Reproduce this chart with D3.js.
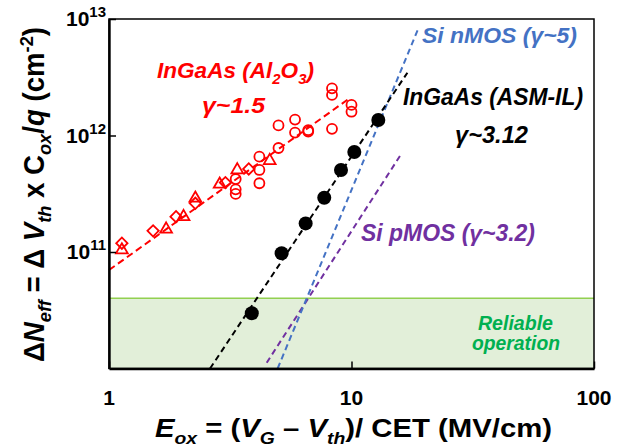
<!DOCTYPE html>
<html>
<head>
<meta charset="utf-8">
<script src="https://cdn.jsdelivr.net/npm/d3@7"></script>
<style>
  html, body { margin: 0; padding: 0; background: #fff; }
  svg { display: block; font-family: Arial, "Liberation Sans", Helvetica, sans-serif; font-weight: bold; }
</style>
</head>
<body>
<svg id="chart" width="639" height="446"></svg>
<script>
// InGaAs / Al2O3 gate stack: three device sets (diamonds, triangles, circles)
const al2o3Diamonds = [[1.13,1.19e11],[1.52,1.52e11],[1.89,2.01e11],[2.27,2.62e11],[3.02,3.94e11],[3.77,5.16e11]];
const al2o3Triangles = [[1.13,1.04e11],[1.72,1.57e11],[2.03,2.01e11],[2.27,2.89e11],[2.86,3.81e11],[3.38,5.06e11],[4.60,6.08e11]];
const al2o3Circles = [[3.33,4.23e11],[3.33,3.45e11],[3.33,3.15e11],[4.17,6.58e11],[4.17,5.06e11],[4.17,3.89e11],
  [5.00,1.22e12],[5.00,7.81e11],[5.85,1.37e12],[5.85,1.06e12],[6.63,1.11e12],[6.63,1.08e12],
  [8.31,2.54e12],[8.31,2.23e12],[8.31,1.14e12],[10.0,1.83e12],[10.0,1.60e12]];
// InGaAs with ASM interlayer
const asmIL = [[3.88,2.98e10],[5.15,9.75e10],[6.47,1.76e11],[7.72,2.92e11],[9.05,5.06e11],[10.27,7.22e11],[12.9,1.36e12]];
// Power-law trends (end points)
const fitAl2o3 = [[1,7.0e10],[9.7,2.05e12]];
const fitAsmIL = [[2.61,1e10],[17.0,3.46e12]];
const fitSiN = [[4.96,1e10],[18.86,8.3e12]];
const fitSiP = [[4.47,1.12e10],[16.1,7.03e11]];
// Reliable operation window
const reliableRange = [1e10, 4e10];
// Axis ticks
const xMajor = [1, 10, 100];
const xLabels = ["1", "10", "100"];
const yMajor = [1e11, 1e12, 1e13];
const yExponents = ["11", "12", "13"];

const svg = d3.select("#chart");
const x = d3.scaleLog().domain([1, 100]).range([109, 594]);
const y = d3.scaleLog().domain([1e10, 1e13]).range([368.5, 19]);

const RED = "#ff0000", BLUE = "#4472c4", PURPLE = "#7030a0", GREEN = "#00b050";

// reliable band
svg.append("rect")
  .attr("x", x(1)).attr("width", x(100) - x(1))
  .attr("y", y(reliableRange[1])).attr("height", y(reliableRange[0]) - y(reliableRange[1]))
  .attr("fill", "#e2efd9");
svg.append("line")
  .attr("x1", x(1)).attr("x2", x(100))
  .attr("y1", y(reliableRange[1])).attr("y2", y(reliableRange[1]))
  .attr("stroke", "#92d050").attr("stroke-width", 1.5);

// trend lines
const line = d3.line().x(d => x(d[0])).y(d => y(d[1]));
function trend(data, color, dash) {
  svg.append("path").datum(data).attr("d", line)
    .attr("fill", "none").attr("stroke", color).attr("stroke-width", 2)
    .attr("stroke-dasharray", dash);
}
trend(fitSiP, PURPLE, "6,4");
trend(fitSiN, BLUE, "6,4");
trend(fitAl2o3, RED, "7,4");
trend(fitAsmIL, "#000", "6,4");

// Al2O3 markers
svg.append("g").selectAll("path").data(al2o3Diamonds).join("path")
  .attr("d", d3.symbol(d3.symbolSquare, 64)())
  .attr("transform", d => `translate(${x(d[0])},${y(d[1])}) rotate(45)`)
  .attr("fill", "none").attr("stroke", RED).attr("stroke-width", 1.8);
svg.append("g").selectAll("path").data(al2o3Triangles).join("path")
  .attr("d", d3.symbol(d3.symbolTriangle, 60)())
  .attr("transform", d => `translate(${x(d[0])},${y(d[1])})`)
  .attr("fill", "none").attr("stroke", RED).attr("stroke-width", 1.8);
svg.append("g").selectAll("circle").data(al2o3Circles).join("circle")
  .attr("cx", d => x(d[0])).attr("cy", d => y(d[1])).attr("r", 5)
  .attr("fill", "none").attr("stroke", RED).attr("stroke-width", 1.8);

// ASM-IL markers
svg.append("g").selectAll("circle").data(asmIL).join("circle")
  .attr("cx", d => x(d[0])).attr("cy", d => y(d[1])).attr("r", 7)
  .attr("fill", "#000");

// frame
svg.append("rect")
  .attr("x", x(1)).attr("y", y(1e13))
  .attr("width", x(100) - x(1)).attr("height", y(1e10) - y(1e13))
  .attr("fill", "none").attr("stroke", "#000").attr("stroke-width", 1.5);

// axes with inward ticks
function minorTicks(scale) {
  const [a, b] = scale.domain();
  const out = [];
  for (let d = a; d < b; d *= 10) for (let m = 2; m <= 9; m++) out.push(d * m);
  return out;
}
const xAxisG = svg.append("g").attr("transform", `translate(0,${y(1e10)})`);
xAxisG.call(d3.axisBottom(x).tickValues(minorTicks(x)).tickSize(-4).tickSizeOuter(0).tickFormat(() => ""));
xAxisG.call(d3.axisBottom(x).tickValues(xMajor).tickSize(-7).tickSizeOuter(0).tickFormat(() => ""));
const yAxisG = svg.append("g").attr("transform", `translate(${x(1)},0)`);
yAxisG.call(d3.axisLeft(y).tickValues(minorTicks(y)).tickSize(-4).tickSizeOuter(0).tickFormat(() => ""));
yAxisG.call(d3.axisLeft(y).tickValues(yMajor).tickSize(-7).tickSizeOuter(0).tickFormat(() => ""));
svg.selectAll(".domain").attr("stroke", "#000").attr("stroke-width", 2.4);
svg.selectAll(".tick line").attr("stroke", "#000").attr("stroke-width", 1.5);

// tick labels
svg.append("g").selectAll("text").data(xMajor).join("text")
  .attr("x", d => x(d)).attr("y", 405)
  .attr("text-anchor", "middle").attr("font-size", 21).attr("fill", "#000")
  .text((d, i) => xLabels[i]);
const yl = svg.append("g").selectAll("text").data(yMajor).join("text")
  .attr("x", 106).attr("y", d => y(d) + 7)
  .attr("text-anchor", "end").attr("font-size", 21).attr("fill", "#000");
yl.append("tspan").text("10");
yl.append("tspan").attr("dy", -9).attr("font-size", 15).text((d, i) => yExponents[i]);

// rich text helper: parts = [text, style] where style may include i, sub, sup
function richText(parent, parts, opts) {
  const t = parent.append("text")
    .attr("x", opts.x).attr("y", opts.y)
    .attr("font-size", opts.size).attr("fill", opts.color || "#000")
    .attr("text-anchor", opts.anchor || "start");
  if (opts.italic) t.attr("font-style", "italic");
  if (opts.length) t.attr("textLength", opts.length).attr("lengthAdjust", "spacingAndGlyphs");
  let shift = 0;
  const subSize = opts.size * 0.66;
  parts.forEach(([txt, st]) => {
    const s = st || "";
    let target = 0;
    if (s.includes("sub")) target = opts.size * 0.25;
    if (s.includes("sup")) target = -opts.size * 0.38;
    const sp = t.append("tspan").text(txt).attr("dy", target - shift);
    shift = target;
    if (s.includes("sub") || s.includes("sup")) sp.attr("font-size", subSize);
    if (s.includes("i")) sp.attr("font-style", "italic");
  });
  return t;
}

// axis titles
richText(svg, [["E", "i"], ["ox", "i sub"], [" = ("], ["V", "i"], ["G", "i sub"], [" \u2013  "], ["V", "i"], ["th", "i sub"], [")/ CET (MV/cm)"]],
  { x: 155, y: 437, size: 26, length: 397 });
const yTitleG = svg.append("g").attr("transform", "translate(44,194.5) rotate(-90)");
richText(yTitleG, [["\u0394"], ["N", "i"], ["eff", "i sub"], [" = \u0394 "], ["V", "i"], ["th", "i sub"], [" x C"], ["ox", "i sub"], ["/"], ["q", "i"], [" (cm"], ["-2", "sup"], [")"]],
  { x: 0, y: 0, size: 29, length: 335, anchor: "middle" });

// annotations
richText(svg, [["InGaAs (Al"], ["2", "sub"], ["O"], ["3", "sub"], [")"]], { x: 157, y: 78, size: 22, length: 157, color: RED, italic: true });
richText(svg, [["\u03b3~1.5"]], { x: 202, y: 113, size: 22, length: 63, color: RED, italic: true });
richText(svg, [["Si nMOS (\u03b3~5)"]], { x: 422, y: 43, size: 22, length: 155, color: BLUE, italic: true });
richText(svg, [["InGaAs (ASM-IL)"]], { x: 403, y: 105, size: 24, length: 180, color: "#000", italic: true });
richText(svg, [["\u03b3~3.12"]], { x: 455, y: 143, size: 24, length: 73, color: "#000", italic: true });
richText(svg, [["Si pMOS (\u03b3~3.2)"]], { x: 361, y: 241, size: 23, length: 174, color: PURPLE, italic: true });
richText(svg, [["Reliable"]], { x: 515.5, y: 330, size: 20, length: 75, color: GREEN, italic: true, anchor: "middle" });
richText(svg, [["operation"]], { x: 516, y: 350, size: 20, length: 88, color: GREEN, italic: true, anchor: "middle" });
</script>
</body>
</html>
